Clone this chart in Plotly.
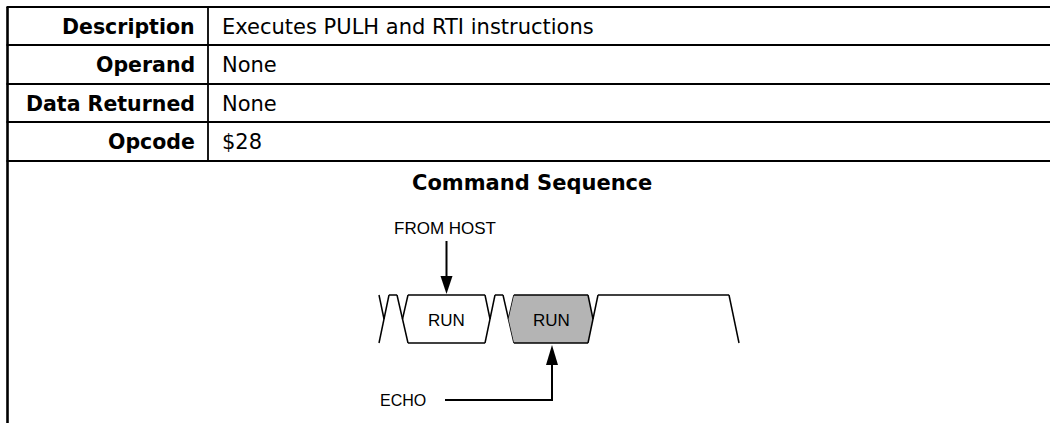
import plotly.graph_objects as go

# ---- table content ----
row_labels = ["Description", "Operand", "Data Returned", "Opcode"]
row_values = ["Executes PULH and RTI instructions", "None", "None", "$28"]
section_title = "Command Sequence"

# ---- timing diagram content ----
wave_items = [
    ("bus_to_high", None, None),
    ("high", None, None),
    ("high_to_bus", None, None),
    ("bus", "RUN", "white"),
    ("bus_to_high", None, None),
    ("high", None, None),
    ("high_to_bus", None, None),
    ("bus", "RUN", "#b4b4b4"),
    ("bus_to_high", None, None),
    ("high", None, None),
    ("fall", None, None),
]
wave_widths = [10, 8, 11, 77, 10, 8, 11, 74, 10, 131, 10]
host_label = "FROM HOST"
echo_label = "ECHO"

W, H = 1050, 423
FONT = "Liberation Sans, Arial, sans-serif"
TFONT = "DejaVu Sans, Liberation Sans, sans-serif"

row_tops = [7, 45, 84, 122, 161]
left_x = 7.5
div_x = 208
wave_x0 = 379
T, B = 295, 343
M = (T + B) / 2

fig = go.Figure()

def line(xs, ys, width=1.5, color="black"):
    fig.add_trace(go.Scatter(x=xs, y=ys, mode="lines",
                             line=dict(color=color, width=width),
                             hoverinfo="skip", showlegend=False))

def poly(xs, ys, fill):
    fig.add_trace(go.Scatter(x=xs, y=ys, mode="lines", fill="toself",
                             fillcolor=fill, line=dict(width=0, color=fill),
                             hoverinfo="skip", showlegend=False))

# ---- table lines ----
for yv in row_tops:
    line([left_x - 1, W], [yv, yv], width=2.2)
line([left_x, left_x], [row_tops[0], H + 2], width=2.6)
line([div_x, div_x], [row_tops[0], row_tops[-1]], width=1.8)

annotations = []
for i, (lab, val) in enumerate(zip(row_labels, row_values)):
    yc = (row_tops[i] + row_tops[i + 1]) / 2 + 0.5
    annotations.append(dict(x=197, y=yc, text="<b>%s</b>" % lab, xanchor="right",
                            yanchor="middle", showarrow=False,
                            font=dict(family=TFONT, size=20.5, color="black")))
    annotations.append(dict(x=220, y=yc, text=val, xanchor="left",
                            yanchor="middle", showarrow=False,
                            font=dict(family=TFONT, size=21, color="black")))
annotations.append(dict(x=532, y=183, text="<b>%s</b>" % section_title, xanchor="center",
                        yanchor="middle", showarrow=False,
                        font=dict(family=TFONT, size=21, color="black")))

# ---- waveform ----
x = wave_x0
centers = {}
for idx, ((kind, label, fill), w) in enumerate(zip(wave_items, wave_widths)):
    x0, x1 = x, x + w
    xm = (x0 + x1) / 2
    if kind == "bus_to_high":
        line([x0, x1], [B, T])
        line([x0, xm], [T, M])
    elif kind == "high_to_bus":
        line([x0, x1], [T, B])
        line([xm, x1], [M, T])
    elif kind == "high":
        line([x0, x1], [T, T])
    elif kind == "fall":
        line([x0, x1], [T, B])
    elif kind == "bus":
        wl = wave_widths[idx - 1] / 2
        wr = wave_widths[idx + 1] / 2
        px = [x0 - wl, x0, x1, x1 + wr, x1, x0, x0 - wl]
        py = [M, T, T, M, B, B, M]
        if fill != "white":
            poly(px, py, fill)
        line([x0, x1], [T, T])
        line([x0, x1], [B, B])
        centers[idx] = (x0 + x1) / 2
        annotations.append(dict(x=(x0 + x1) / 2, y=M + 1, text=label, showarrow=False,
                                xanchor="center", yanchor="middle",
                                font=dict(family=FONT, size=17, color="black")))
    x = x1

bus_centers = sorted(centers.values())

# FROM HOST arrow onto first RUN
ax = bus_centers[0]
line([ax, ax], [241, 280], width=2)
poly([ax - 6, ax + 6, ax, ax - 6], [276, 276, T - 1, 276], "black")
annotations.append(dict(x=ax - 2, y=228, text=host_label, showarrow=False,
                        xanchor="center", yanchor="middle",
                        font=dict(family=FONT, size=17, color="black")))

# ECHO arrow onto second RUN
bx = bus_centers[1] + 1
line([445, bx, bx], [400, 400, 360], width=2)
poly([bx - 6, bx + 6, bx, bx - 6], [365, 365, B + 2, 365], "black")
annotations.append(dict(x=428, y=400, text=echo_label, showarrow=False,
                        xanchor="right", yanchor="middle",
                        font=dict(family=FONT, size=16, color="black")))

fig.update_layout(
    width=W, height=H,
    margin=dict(l=0, r=0, t=0, b=0),
    paper_bgcolor="white", plot_bgcolor="white",
    xaxis=dict(range=[0, W], visible=False, fixedrange=True),
    yaxis=dict(range=[H, 0], visible=False, fixedrange=True),
    annotations=annotations,
    showlegend=False,
)
fig.write_html("out.html", config={"displayModeBar": False},
               post_script="document.body.style.margin='0';document.body.style.overflow='hidden';")
